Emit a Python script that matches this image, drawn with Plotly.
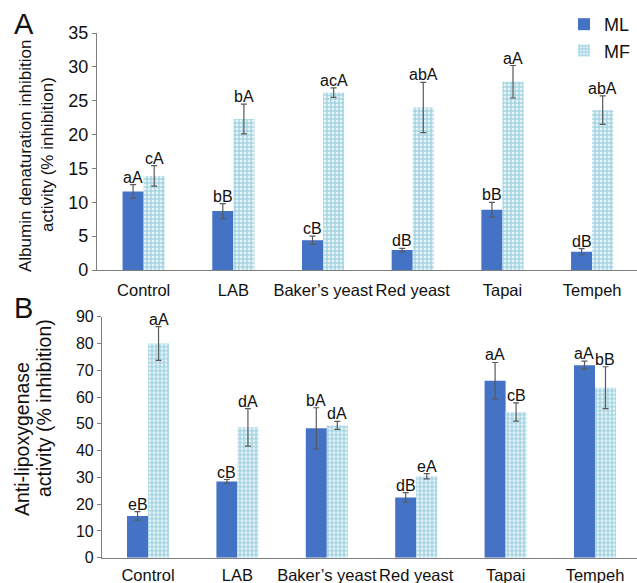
import plotly.graph_objects as go

W, H = 637, 583

categories = ["Control", "LAB", "Baker’s yeast", "Red yeast", "Tapai", "Tempeh"]

# Panel A: Albumin denaturation inhibition (%)
a_ml = [11.6, 8.7, 4.4, 2.95, 8.9, 2.7]
a_ml_err = [1.0, 1.1, 0.6, 0.25, 1.1, 0.45]
a_mf = [13.9, 22.3, 26.2, 24.0, 27.8, 23.6]
a_mf_err = [1.5, 2.2, 0.7, 3.7, 2.4, 2.1]
a_ml_lbl = ["aA", "bB", "cB", "dB", "bB", "dB"]
a_mf_lbl = ["cA", "bA", "acA", "abA", "aA", "abA"]

# Panel B: Anti-lipoxygenase activity (%)
b_ml = [15.6, 28.5, 48.3, 22.5, 66.1, 71.9]
b_ml_err = [1.6, 0.7, 7.7, 1.8, 6.8, 1.5]
b_mf = [80.0, 48.7, 49.4, 30.4, 54.4, 63.5]
b_mf_err = [6.3, 7.0, 1.5, 1.0, 3.4, 7.8]
b_ml_lbl = ["eB", "cB", "bA", "dB", "aA", "aA"]
b_mf_lbl = ["aA", "dA", "dA", "eA", "cB", "bB"]

FONT = "Liberation Sans, Arial, sans-serif"
BLUE = "#4472C4"
TEAL = "#3aa0c0"
ERR = "#5a5a5a"

def px_x(p):
    return p / W

def px_y(p):
    return 1 - p / H

fig = go.Figure()

def add_panel(ml, ml_err, mf, mf_err, xa, ya, show):
    fig.add_trace(go.Bar(
        x=categories, y=ml, name="ML", xaxis=xa, yaxis=ya,
        marker=dict(color=BLUE, line=dict(width=0)),
        error_y=dict(type="data", array=ml_err, color=ERR, thickness=1.2, width=3),
        showlegend=show, legendgroup="ML"))
    fig.add_trace(go.Bar(
        x=categories, y=mf, name="MF", xaxis=xa, yaxis=ya,
        marker=dict(color="white", line=dict(width=0),
                    pattern=dict(shape="+", fgcolor=TEAL, bgcolor="#e6f3f7",
                                 size=4, solidity=0.45, fillmode="overlay")),
        error_y=dict(type="data", array=mf_err, color=ERR, thickness=1.2, width=3),
        showlegend=show, legendgroup="MF"))

add_panel(a_ml, a_ml_err, a_mf, a_mf_err, "x", "y", True)
add_panel(b_ml, b_ml_err, b_mf, b_mf_err, "x2", "y2", False)

annotations = []
def add_labels(vals, errs, lbls, xr, yr, shift):
    for c, v, e, t in zip(categories, vals, errs, lbls):
        annotations.append(dict(
            x=c, y=v + e, xref=xr, yref=yr, text=t, showarrow=False,
            xshift=shift, yshift=-3, yanchor="bottom",
            font=dict(family=FONT, size=16, color="#111")))

add_labels(a_ml, a_ml_err, a_ml_lbl, "x", "y", -10.5)
add_labels(a_mf, a_mf_err, a_mf_lbl, "x", "y", 10.5)
add_labels(b_ml, b_ml_err, b_ml_lbl, "x2", "y2", -10.5)
add_labels(b_mf, b_mf_err, b_mf_lbl, "x2", "y2", 10.5)

def paper_text(text, x, y, size, angle=0):
    annotations.append(dict(
        x=px_x(x), y=px_y(y), xref="paper", yref="paper", text=text,
        showarrow=False, textangle=angle, xanchor="center", yanchor="middle",
        font=dict(family=FONT, size=size, color="#111")))

paper_text("A", 24, 24, 29)
paper_text("B", 24, 308, 29)
paper_text("Albumin denaturation inhibition", 25, 156, 17, -90)
paper_text("activity (% inhibition)", 47, 155, 17, -90)
paper_text("Anti-lipoxygenase", 22, 439, 19.5, -90)
paper_text("activity (% inhibition)", 44, 408, 19.5, -90)

axis_common = dict(showline=True, linecolor="#7f7f7f", linewidth=1.2,
                   showgrid=False, zeroline=False, mirror=False, automargin=False)

fig.update_layout(
    width=W, height=H,
    margin=dict(l=0, r=0, t=0, b=0, autoexpand=False),
    paper_bgcolor="white", plot_bgcolor="white",
    barmode="group", bargap=0.53, bargroupgap=0,
    font=dict(family=FONT, color="#111"),
    annotations=annotations,
    legend=dict(x=px_x(564), y=px_y(6), xanchor="left", yanchor="top",
                font=dict(family=FONT, size=18, color="#111"),
                bgcolor="rgba(0,0,0,0)", itemwidth=30, tracegroupgap=0),
    xaxis=dict(domain=[px_x(97), 1], anchor="y", range=[-0.52, 5.5],
               ticks="", ticklen=0, tickangle=0, ticklabelstandoff=5,
               tickfont=dict(family=FONT, size=16.5, color="#111"), **axis_common),
    yaxis=dict(domain=[px_y(270), px_y(33)], anchor="x", range=[0, 35], dtick=5,
               ticks="outside", ticklen=4, tickcolor="#7f7f7f",
               tickfont=dict(family=FONT, size=18, color="#111"), **axis_common),
    xaxis2=dict(domain=[px_x(102), 1], anchor="y2", range=[-0.515, 5.47],
                ticks="", ticklen=0, tickangle=0, ticklabelstandoff=2,
                tickfont=dict(family=FONT, size=16.5, color="#111"), **axis_common),
    yaxis2=dict(domain=[px_y(557.7), px_y(316.7)], anchor="x2", range=[0, 90], dtick=10,
                ticks="outside", ticklen=4, tickcolor="#7f7f7f",
                tickfont=dict(family=FONT, size=16, color="#111"), **axis_common),
)

fig.write_html("out.html", config={"displayModeBar": False},
               post_script="document.body.style.margin='0';document.body.style.overflow='hidden';")
